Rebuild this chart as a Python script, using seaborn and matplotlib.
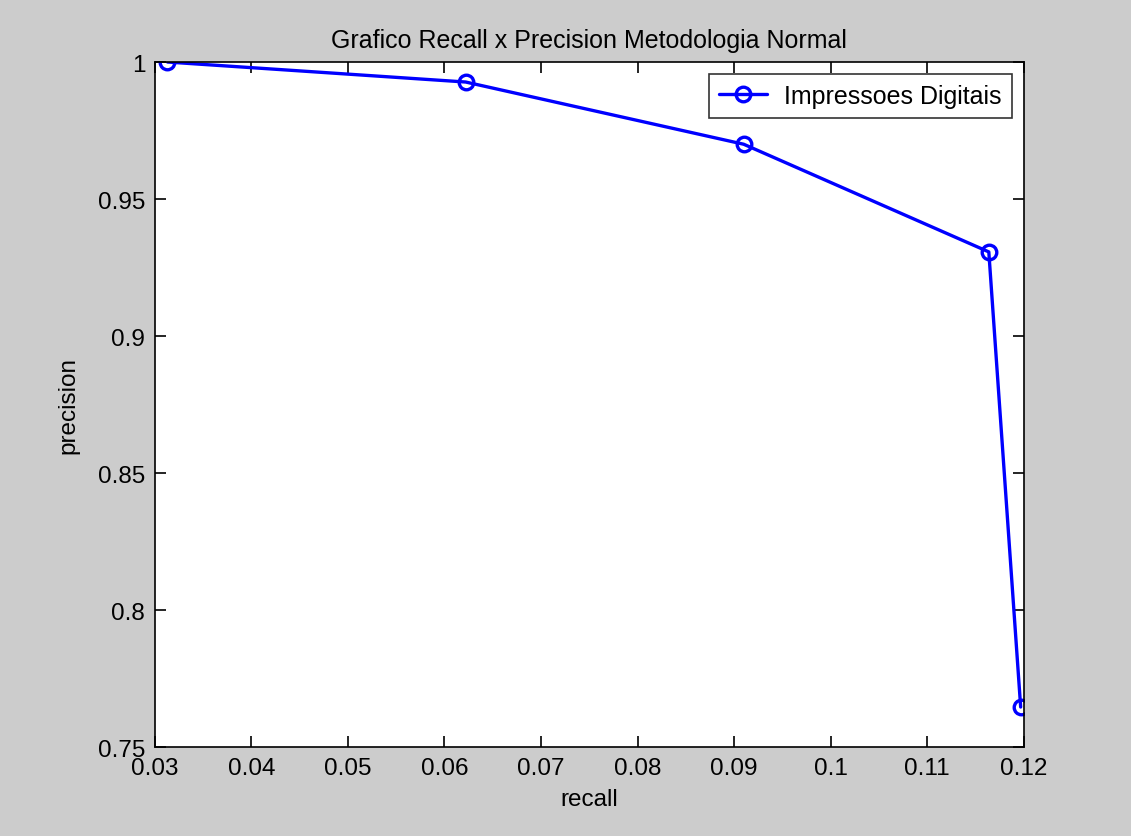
import matplotlib
matplotlib.use('Agg')
import matplotlib.pyplot as plt
import seaborn as sns
import pandas as pd

# dados
recall = [0.0313, 0.0622, 0.0910, 0.1164, 0.1197]
precision = [1.0, 0.9927, 0.970, 0.9307, 0.7646]
serie = 'Impressoes Digitais'

x_ticks = [0.03, 0.04, 0.05, 0.06, 0.07, 0.08, 0.09, 0.10, 0.11, 0.12]
x_labels = ['0.03', '0.04', '0.05', '0.06', '0.07', '0.08', '0.09', '0.1', '0.11', '0.12']
y_ticks = [0.75, 0.80, 0.85, 0.90, 0.95, 1.0]
y_labels = ['0.75', '0.8', '0.85', '0.9', '0.95', '1']

df = pd.DataFrame({'recall': recall, 'precision': precision, 'serie': serie})

sns.set_style('ticks')
plt.rcParams['font.family'] = ['Liberation Sans', 'DejaVu Sans']
plt.rcParams['text.color'] = 'black'
plt.rcParams['axes.labelcolor'] = 'black'
plt.rcParams['xtick.color'] = 'black'
plt.rcParams['ytick.color'] = 'black'

fig = plt.figure(figsize=(11.31, 8.37), dpi=100, facecolor='#cccccc')
ax = fig.add_axes([0.137, 0.1063, 0.768, 0.8184])
ax.set_facecolor('white')

sns.lineplot(data=df, x='recall', y='precision', hue='serie', palette=['#0000ff'],
             sort=False, marker='o', markersize=10.5, markerfacecolor='none',
             markeredgecolor='#0000ff', markeredgewidth=2.4, linewidth=2.4, ax=ax)

ax.set_xlim(0.03, 0.12)
ax.set_ylim(0.75, 1.0)
ax.set_xticks(x_ticks)
ax.set_xticklabels(x_labels)
ax.set_yticks(y_ticks)
ax.set_yticklabels(y_labels)
ax.tick_params(direction='in', top=True, right=True, length=8, width=1.2,
               labelsize=17.5, pad=7)
for s in ax.spines.values():
    s.set_linewidth(1.2)
    s.set_color('black')

ax.set_xlabel('recall', fontsize=17.5)
ax.set_ylabel('precision', fontsize=17.5)
ax.xaxis.set_label_coords(0.5, -0.076)
ax.xaxis.label.set_va('center')
ax.yaxis.set_label_coords(-0.100, 0.5)
ax.yaxis.label.set_va('center')
ax.set_title('Grafico Recall x Precision Metodologia Normal', fontsize=18, pad=11)

leg = ax.legend(loc='upper right', fontsize=18, frameon=True, fancybox=False,
                edgecolor='black', borderaxespad=0.48, handlelength=1.9,
                handletextpad=0.7, borderpad=0.4)
leg.get_frame().set_linewidth(1.2)

fig.savefig('out.png', dpi=100, facecolor=fig.get_facecolor())
